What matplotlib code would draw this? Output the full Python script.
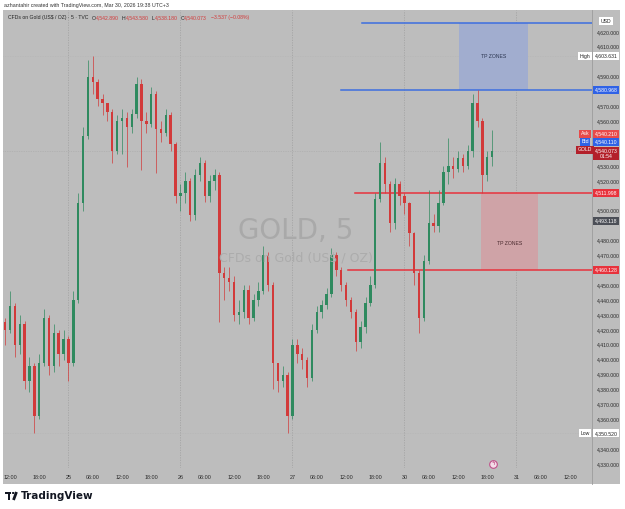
import matplotlib
matplotlib.use("Agg")
import matplotlib.pyplot as plt
import numpy as np
from matplotlib.patches import Rectangle, Circle
from matplotlib.lines import Line2D

# hourly bars, x = trading hours since Mar 24 12:00 (gap hours removed)
hours = list(range(-1, 100))
closes = [4420, 4436, 4410, 4424, 4386, 4396, 4362, 4398, 4428, 4396, 4418, 4404, 4414,
          4398, 4440, 4505, 4550, 4590, 4586, 4575, 4572, 4566, 4540, 4560, 4562, 4556,
          4565, 4585, 4560, 4558, 4578, 4555, 4552, 4564, 4545, 4510, 4512, 4520, 4497,
          4524, 4532, 4510, 4520, 4524, 4458, 4455, 4452, 4430, 4432, 4447, 4428, 4440,
          4446, 4470, 4450, 4398, 4386, 4390, 4362, 4410, 4404, 4400, 4388, 4420, 4432,
          4437, 4444, 4470, 4460, 4450, 4440, 4432, 4412, 4422, 4438, 4450, 4508, 4532,
          4518, 4492, 4518, 4510, 4505, 4485, 4458, 4428, 4466, 4492, 4490, 4505, 4526,
          4530, 4528, 4535, 4530, 4540, 4572, 4560, 4524, 4536, 4540.073]
highs = [4428, 4446, 4438, 4430, 4426, 4402, 4398, 4404, 4434, 4430, 4424, 4420, 4420,
         4416, 4446, 4512, 4556, 4601, 4603.6, 4588, 4578, 4572, 4568, 4564, 4568, 4566,
         4568, 4590, 4588, 4566, 4583, 4580, 4560, 4568, 4566, 4546, 4518, 4526, 4522,
         4528, 4536, 4534, 4524, 4528, 4526, 4462, 4462, 4456, 4440, 4450, 4450, 4444,
         4452, 4476, 4472, 4452, 4398, 4396, 4392, 4414, 4414, 4408, 4402, 4424, 4436,
         4440, 4448, 4475, 4472, 4462, 4452, 4442, 4434, 4426, 4442, 4456, 4512, 4546,
         4536, 4520, 4522, 4520, 4512, 4506, 4486, 4460, 4470, 4514, 4498, 4514, 4530,
         4549, 4536, 4540, 4538, 4544, 4578, 4581, 4562, 4540, 4554]
lows = [4410, 4418, 4402, 4404, 4380, 4378, 4350.5, 4360, 4396, 4390, 4392, 4396, 4400,
        4386, 4396, 4438, 4500, 4548, 4578, 4570, 4564, 4560, 4532, 4538, 4538, 4529,
        4552, 4562, 4527, 4552, 4556, 4525, 4546, 4550, 4540, 4505, 4500, 4505, 4493,
        4494, 4520, 4506, 4506, 4514, 4425, 4440, 4446, 4426, 4424, 4428, 4424, 4426,
        4436, 4444, 4446, 4380, 4378, 4382, 4351, 4360, 4398, 4394, 4382, 4386, 4418,
        4428, 4434, 4442, 4456, 4446, 4436, 4428, 4406, 4408, 4418, 4436, 4448, 4506,
        4512, 4486, 4488, 4504, 4498, 4476, 4450, 4418, 4426, 4464, 4486, 4486, 4504,
        4518, 4522, 4526, 4526, 4528, 4536, 4556, 4512, 4520, 4530]
first_open = 4425

price_ticks = list(range(4330, 4621, 10))
hidden_ticks = [4350, 4460, 4490, 4510, 4540, 4550, 4580, 4600]
tick_hours = [0, 6, 12, 17, 23, 29, 35, 40, 46, 52, 58, 63, 69, 75, 81, 86, 92, 98, 104, 109, 115]
tick_labels = ["12:00", "18:00", "25", "06:00", "12:00", "18:00", "26", "06:00", "12:00", "18:00",
               "27", "06:00", "12:00", "18:00", "30", "06:00", "12:00", "18:00", "31", "06:00", "12:00"]
day_starts = [12, 35, 58, 81, 104]

tp_high = 4580.968
tp_top = 4626.0
sl_high = 4511.998
sl_low = 4460.128
last_price = 4540.073
range_high = 4603.631
range_low = 4350.520

bg = "#bdbdbd"
up_col = "#2f8a5f"
dn_col = "#d23a3a"
red = "#e8323c"
blue = "#3c6ee0"
small = dict(family="Liberation Sans", size=3.7)

W, H = 625, 509
fig = plt.figure(figsize=(W / 100, H / 100), dpi=100)
fig.patch.set_facecolor("white")

def fx(px):
    return px / W

def fy(py):
    return 1 - py / H

fig.add_artist(Rectangle((fx(3), fy(484)), fx(617), 474 / H, transform=fig.transFigure,
                         facecolor=bg, edgecolor="none", zorder=0))

ax = fig.add_axes([fx(3), fy(468), fx(589), 458 / H])
ax.set_facecolor(bg)
ax.set_xlim((3 - 10) / 4.87, (592 - 10) / 4.87)
ax.set_ylim(4330 - 4 * 0.671, 4330 + 454 * 0.671)
for s in ["top", "left", "bottom"]:
    ax.spines[s].set_visible(False)
ax.spines["right"].set_color("#9c9c9c")
ax.spines["right"].set_linewidth(0.6)
fig.add_artist(Line2D([fx(592), fx(592)], [fy(468), fy(484)], color="#9c9c9c", lw=0.6,
                      transform=fig.transFigure))

# axes ticks (labels under the coloured price boxes are left out, as they are covered)
ax.yaxis.tick_right()
ax.set_yticks(price_ticks)
ax.set_yticklabels(["" if v in hidden_ticks else f"{v:,.3f}" for v in price_ticks],
                   fontfamily="Liberation Sans")
ax.tick_params(axis="y", length=0, pad=3.2, labelsize=3.7, labelcolor="#2a2a2a")
ax.set_xticks(tick_hours)
ax.set_xticklabels(tick_labels, fontfamily="Liberation Sans")
ax.tick_params(axis="x", length=0, pad=4.8, labelsize=3.9, labelcolor="#2a2a2a")

for d in day_starts:
    ax.axvline(d, color="#a4a4a4", lw=0.6, ls=(0, (1.5, 1.5)), zorder=0.5)
ax.axhline(last_price, color="#a8a8a8", lw=0.5, ls=(0, (1, 1.5)), zorder=0.5)
ax.axhline(range_high, color="#b0b0b0", lw=0.4, ls=(0, (1, 2)), zorder=0.5)
ax.axhline(range_low, color="#b0b0b0", lw=0.4, ls=(0, (1, 2)), zorder=0.5)

# watermark
fig.text(fx(296), fy(231), "GOLD, 5", fontsize=20, color="#a9a9a9", ha="center", va="center", zorder=1)
fig.text(fx(296), fy(259), "CFDs on Gold (US$ / OZ)", fontsize=9, color="#acacac", ha="center",
         va="center", zorder=1)

# zones
ax.add_patch(Rectangle((92.2, tp_high), 106.4 - 92.2, tp_top - tp_high, facecolor="#a1adcf",
                       edgecolor="none", zorder=1))
ax.add_patch(Rectangle((96.7, sl_low), 108.4 - 96.7, sl_high - sl_low, facecolor="#cfa3a7",
                       edgecolor="none", zorder=1))
ax.text((92.2 + 106.4) / 2, (tp_high + tp_top) / 2, "TP ZONES", color="#2b3550",
        ha="center", va="center", zorder=2, **small)
ax.text((96.7 + 108.4) / 2, 4478, "TP ZONES", color="#4a2a2e",
        ha="center", va="center", zorder=2, **small)
xr = ax.get_xlim()[1]
ax.plot([72.3, xr], [tp_top, tp_top], color=blue, lw=1.1, zorder=3)
ax.plot([68.0, xr], [tp_high, tp_high], color=blue, lw=1.1, zorder=3)
ax.plot([70.8, xr], [sl_high, sl_high], color=red, lw=1.1, zorder=3)
ax.plot([69.4, xr], [sl_low, sl_low], color=red, lw=1.1, zorder=3)

# candles
o = np.array([first_open] + closes[:-1], dtype=float)
c = np.array(closes, dtype=float)
h = np.maximum(np.array(highs, dtype=float), np.maximum(o, c))
l = np.minimum(np.array(lows, dtype=float), np.minimum(o, c))
cols = [up_col if cc >= oo else dn_col for oo, cc in zip(o, c)]
ax.vlines(hours, l, h, colors=cols, lw=0.5, zorder=4)
ax.bar(hours, np.maximum(np.abs(c - o), 0.6), bottom=np.minimum(o, c), width=0.5,
       color=cols, zorder=5)

# price axis labels
ytr = ax.get_yaxis_transform()
vx = (606 - 3) / 589
lx = (585 - 3) / 589

def plabel(y, txt, fc, tc="white", x=vx):
    ax.text(x, y, txt, transform=ytr, color=tc, ha="center", va="center",
            zorder=10, clip_on=False, linespacing=1.1,
            bbox=dict(boxstyle="square,pad=0.3", facecolor=fc, edgecolor="none"), **small)

plabel(4627, "USD", "white", "#222222")
plabel(range_high, "High", "white", "#222222", lx)
plabel(range_high, f"{range_high:,.3f}", "white", "#222222")
plabel(tp_high, f"{tp_high:,.3f}", "#2f62e6")
plabel(4551.5, "Ask", "#e84a4a", x=lx)
plabel(4551.5, "4,540.210", "#e84a4a")
plabel(4546.2, "Bid", "#2f62e6", x=lx)
plabel(4546.2, "4,540.110", "#2f62e6")
plabel(4540.9, "GOLD", "#b3202a", x=lx)
plabel(4538.3, "4,540.073\n01:54", "#b3202a")
plabel(sl_high, f"{sl_high:,.3f}", "#e8323c")
plabel(4493.118, "4,493.118", "#4c4f57")
plabel(sl_low, f"{sl_low:,.3f}", "#e8323c")
plabel(range_low, "Low", "white", "#222222", lx)
plabel(range_low, f"{range_low:,.3f}", "white", "#222222")

# event marker near time axis
ev_x = (493 - 10) / 4.87
ax.plot([ev_x], [4330], marker="o", ms=5.5, mfc="#f4dce8", mec="#c0508a", mew=0.8,
        zorder=6, clip_on=False)
ax.text(ev_x, 4330, "ϟ", fontsize=4, color="#b0306a", ha="center", va="center", zorder=7)

# header texts
fig.text(fx(4), fy(5), "azhantahir created with TradingView.com, Mar 30, 2026 19:38 UTC+3",
         color="#333333", va="center", ha="left", family="Liberation Sans", size=3.8)
prev = fig.text(fx(8), fy(18), "CFDs on Gold (US$ / OZ) · 5 · TVC", color="#222222",
                va="center", ha="left", zorder=10, **small)
header = [("O", "4,542.890"), ("H", "4,543.580"), ("L", "4,538.180"), ("C", "4,540.073"),
          ("", "−3.537 (−0.08%)")]
for k, v in header:
    key = ax.annotate(k, xy=(1, 0.5), xycoords=prev, xytext=(2.2, 0), textcoords="offset points",
                      va="center", ha="left", color="#222222", annotation_clip=False, **small)
    prev = ax.annotate(v, xy=(1, 0.5), xycoords=key, xytext=(0.2, 0), textcoords="offset points",
                       va="center", ha="left", color="#d23a3a", annotation_clip=False, **small)

# TradingView logo
fig.add_artist(Rectangle((fx(5), fy(494)), fx(6), 2.2 / H, transform=fig.transFigure,
                         facecolor="#131722", edgecolor="none"))
fig.add_artist(Rectangle((fx(8), fy(500)), fx(2.4), 6 / H, transform=fig.transFigure,
                         facecolor="#131722", edgecolor="none"))
fig.add_artist(Circle((fx(13.2), fy(493)), 1.3 / W, transform=fig.transFigure,
                      facecolor="#131722", edgecolor="none"))
fig.add_artist(Line2D([fx(16.5), fx(13.5)], [fy(492), fy(500)], color="#131722", lw=2.0,
                      transform=fig.transFigure, solid_capstyle="butt"))
fig.text(fx(21), fy(496), "TradingView", fontsize=7.5, fontweight="bold", color="#131722",
         va="center", ha="left")

fig.savefig("out.png", dpi=100, facecolor="white")
